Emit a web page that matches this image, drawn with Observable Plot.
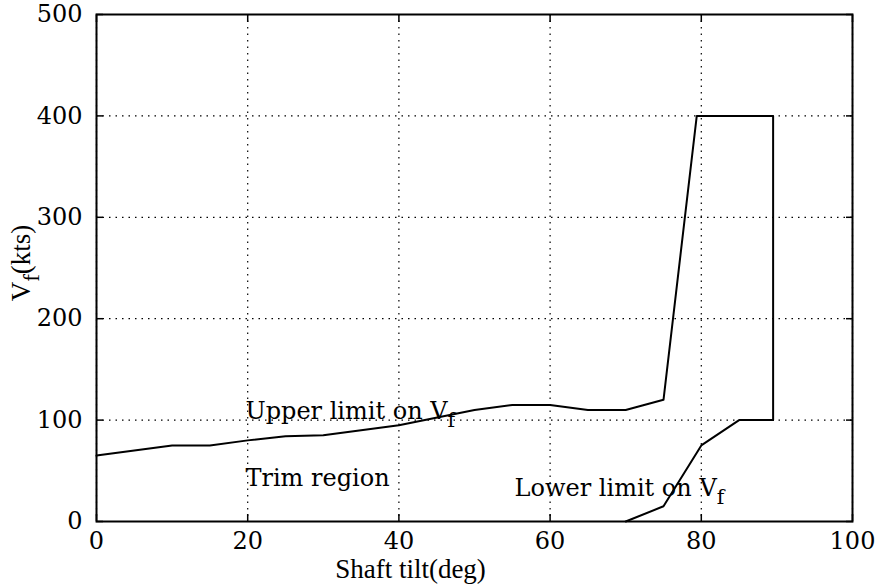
<!DOCTYPE html>
<html>
<head>
<meta charset="utf-8">
<script src="https://cdn.jsdelivr.net/npm/d3@7"></script>
<script src="https://cdn.jsdelivr.net/npm/@observablehq/plot@0.6"></script>
<style>
  html, body { margin: 0; padding: 0; background: #fff; }
  svg { display: block; }
</style>
</head>
<body>
<div id="chart"></div>
<script>
// Data
const upperTilt = [0, 10, 15, 20, 25, 30, 40, 50, 55, 60, 65, 70, 75, 79.4, 89.5, 89.5];
const upperVf   = [65, 75, 75, 80, 84, 85, 95, 110, 115, 115, 110, 110, 120, 400, 400, 100];
const lowerTilt = [70, 75, 80, 85, 89.5];
const lowerVf   = [0, 15, 75, 100, 100];
const xTicks = [0, 20, 40, 60, 80, 100];
const yTicks = [0, 100, 200, 300, 400, 500];
const labelText = ["Upper limit on V_f", "Trim region", "Lower limit on V_f"];
const labelTilt = [19.7, 19.7, 55.3];
const labelVf   = [101, 35.5, 25.6];
const xTitle = "Shaft tilt(deg)";
const yTitle = "V_f(kts)";

const upper = upperTilt.map((t, i) => ({tilt: t, vf: upperVf[i]}));
const lower = lowerTilt.map((t, i) => ({tilt: t, vf: lowerVf[i]}));
const labels = labelText.map((s, i) => ({text: s, tilt: labelTilt[i], vf: labelVf[i]}));

const font = "'DejaVu Serif', 'Liberation Serif', serif";
const titleFont = "'Liberation Serif', 'DejaVu Serif', serif";

const chart = Plot.plot({
  width: 883,
  height: 585,
  marginLeft: 96,
  marginRight: 31,
  marginTop: 14,
  marginBottom: 64,
  style: {fontFamily: font, fontSize: "24px", color: "black", background: "white"},
  x: {domain: [0, 100]},
  y: {domain: [0, 500]},
  marks: [
    Plot.gridX(xTicks, {stroke: "black", strokeOpacity: 1, strokeWidth: 1.2, strokeDasharray: "1.5,5"}),
    Plot.gridY(yTicks, {stroke: "black", strokeOpacity: 1, strokeWidth: 1.2, strokeDasharray: "1.5,5"}),
    Plot.axisX(xTicks, {anchor: "bottom", tickSize: 0, tickPadding: 10, fontSize: 24, label: null}),
    Plot.axisY(yTicks, {anchor: "left", tickSize: 0, tickPadding: 14, fontSize: 24, label: null}),
    Plot.axisX(xTicks, {anchor: "bottom", tickSize: -7, text: null, label: null, strokeWidth: 1.5}),
    Plot.axisX(xTicks, {anchor: "top", tickSize: -7, text: null, label: null, strokeWidth: 1.5}),
    Plot.axisY(yTicks, {anchor: "left", tickSize: -7, text: null, label: null, strokeWidth: 1.5}),
    Plot.axisY(yTicks, {anchor: "right", tickSize: -7, text: null, label: null, strokeWidth: 1.5}),
    Plot.frame({stroke: "black", strokeWidth: 2}),
    Plot.line(upper, {x: "tilt", y: "vf", stroke: "black", strokeWidth: 2}),
    Plot.line(lower, {x: "tilt", y: "vf", stroke: "black", strokeWidth: 2}),
    Plot.text(labels, {x: "tilt", y: "vf", text: "text", textAnchor: "start", lineAnchor: "bottom",
      fontSize: 24, fill: "black", fontFamily: font}),
    Plot.text([xTitle], {text: d => d, frameAnchor: "bottom", textAnchor: "middle", dx: -64, dy: 56,
      lineAnchor: "bottom", fontSize: 27, fill: "black", fontFamily: titleFont}),
    Plot.text([yTitle], {text: d => d, frameAnchor: "left", textAnchor: "middle", dx: -75, dy: -5,
      rotate: -90, lineAnchor: "middle", fontSize: 27, fill: "black", fontFamily: titleFont})
  ]
});

// Render "_f" as a subscript f
chart.querySelectorAll("text").forEach(t => {
  const s = t.textContent;
  if (!s.includes("_f")) return;
  const [before, after] = s.split("_f");
  while (t.firstChild) t.removeChild(t.firstChild);
  const ns = "http://www.w3.org/2000/svg";
  const a = document.createElementNS(ns, "tspan"); a.textContent = before; t.appendChild(a);
  const b = document.createElementNS(ns, "tspan"); b.textContent = "f";
  b.setAttribute("dy", "0.4em"); b.setAttribute("font-size", "0.85em"); t.appendChild(b);
  if (after) {
    const c = document.createElementNS(ns, "tspan"); c.textContent = after;
    c.setAttribute("dy", "-0.34em"); t.appendChild(c);
  }
});

document.getElementById("chart").appendChild(chart);
</script>
</body>
</html>
